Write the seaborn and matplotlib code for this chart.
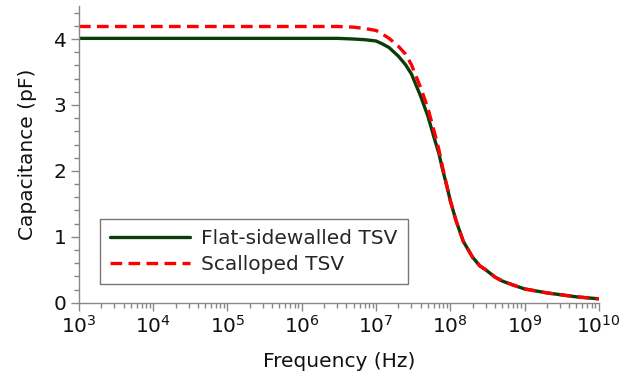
import numpy as np
import pandas as pd
import matplotlib
matplotlib.use("Agg")
import matplotlib.pyplot as plt
from matplotlib.ticker import MultipleLocator, LogLocator, FixedLocator
import seaborn as sns

# Values
freq_hz = [1e3, 1e4, 1e5, 1e6, 3e6, 5e6, 7e6, 1e7, 1.2e7, 1.5e7, 2e7, 2.5e7, 3e7, 4e7, 5e7, 6e7,
           7e7, 8e7, 9e7, 1e8, 1.2e8, 1.5e8, 2e8, 2.5e8, 3e8, 4e8, 5e8, 7e8, 1e9, 2e9, 5e9, 1e10]
flat_pf = [4.01, 4.01, 4.01, 4.01, 4.01, 4.00, 3.99, 3.97, 3.93, 3.87, 3.74, 3.61, 3.47, 3.13, 2.83, 2.52,
           2.27, 1.99, 1.77, 1.55, 1.24, 0.93, 0.69, 0.56, 0.50, 0.39, 0.33, 0.27, 0.21, 0.15, 0.09, 0.06]
scalloped_pf = [4.19, 4.19, 4.19, 4.19, 4.19, 4.18, 4.16, 4.13, 4.08, 4.01, 3.89, 3.77, 3.61, 3.26, 2.95, 2.62,
                2.33, 2.02, 1.77, 1.55, 1.24, 0.93, 0.69, 0.56, 0.50, 0.39, 0.33, 0.27, 0.21, 0.15, 0.09, 0.06]
labels = ["Flat-sidewalled TSV", "Scalloped TSV"]
decades = [1e3, 1e4, 1e5, 1e6, 1e7, 1e8, 1e9, 1e10]

df = pd.DataFrame({
    "freq": freq_hz * 2,
    "cap": flat_pf + scalloped_pf,
    "tsv": [labels[0]] * len(freq_hz) + [labels[1]] * len(freq_hz),
})

sns.set_style("ticks")
plt.rcParams["font.family"] = ["DejaVu Sans"]
FS = 14.5

fig = plt.figure(figsize=(6.37, 3.78), dpi=100)
ax = fig.add_axes([0.124, 0.199, 0.816, 0.785])

sns.lineplot(data=df[df["tsv"] == labels[0]], x="freq", y="cap", color="#0b3d0b",
             linewidth=2.4, ax=ax, label=labels[0])
sns.lineplot(data=df[df["tsv"] == labels[1]], x="freq", y="cap", color="#ff0000",
             linewidth=2.4, ax=ax, label=labels[1])
ax.lines[-1].set_dashes((3.5, 1.9))

ax.set_xscale("log")
ax.set_xlim(1e3, 1e10)
ax.set_ylim(0, 4.5)
ax.xaxis.set_major_locator(FixedLocator(decades))
ax.xaxis.set_minor_locator(LogLocator(base=10, subs=np.arange(2, 10), numticks=20))
ax.yaxis.set_major_locator(MultipleLocator(1))
ax.yaxis.set_minor_locator(MultipleLocator(0.2))

for side in ["top", "right"]:
    ax.spines[side].set_visible(False)
for side in ["left", "bottom"]:
    ax.spines[side].set_color("#888888")
    ax.spines[side].set_linewidth(1.0)

ax.tick_params(which="major", direction="out", length=6, width=1, color="#888888",
               labelsize=FS, labelcolor="#111111", pad=3)
ax.tick_params(which="minor", direction="out", length=3.5, width=1, color="#888888")

ax.set_xlabel("Frequency (Hz)", fontsize=FS, color="#111111", labelpad=11)
ax.set_ylabel("Capacitance (pF)", fontsize=FS, color="#111111", labelpad=12)

leg = ax.legend(loc="lower left", bbox_to_anchor=(0.040, 0.064), borderaxespad=0,
                fontsize=FS, handlelength=4.0, fancybox=False, framealpha=1,
                edgecolor="#777777", borderpad=0.5, labelspacing=0.35, handletextpad=0.55)
leg.get_frame().set_linewidth(1.0)
leg.get_lines()[1].set_dashes((3.5, 1.9))

fig.savefig("out.png", dpi=100)
